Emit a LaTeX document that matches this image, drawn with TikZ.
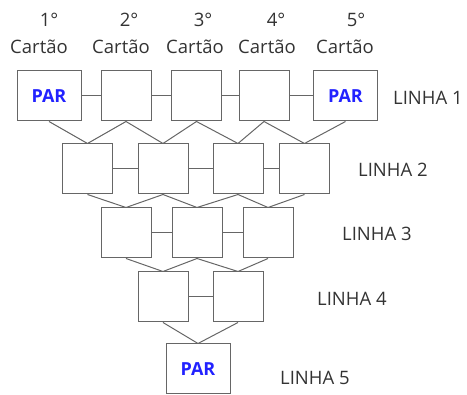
\documentclass[tikz,border=0pt]{standalone}
\usepackage{fontspec}
\setmainfont{Open Sans}
\definecolor{txt}{HTML}{333333}
\definecolor{ln}{HTML}{666666}
\definecolor{parblue}{HTML}{2222FF}
\begin{document}
\begin{tikzpicture}[x=1pt,y=-1pt,
  card/.style={draw=ln,line width=1pt,minimum height=50pt,inner sep=0pt,fill=white},
  cw/.style={minimum width=50pt},
  cwide/.style={minimum width=64pt},
  link/.style={draw=ln,line width=1pt},
  lbl/.style={text=txt,font=\fontsize{18.5}{21}\selectfont,inner sep=0pt},
  par/.style={text=parblue,font=\fontsize{18}{21}\selectfont\bfseries}
]
\useasboundingbox (0,0) rectangle (467,395);
% header
\node[lbl] (n1) at (49,20) {1°};
\node[lbl] (n2) at (129,20) {2°};
\node[lbl] (n3) at (203,20) {3°};
\node[lbl] (n4) at (276,20) {4°};
\node[lbl] (n5) at (356,20) {5°};
\node[lbl] (c1) at (39,47) {Cartão};
\node[lbl] (c2) at (121,47) {Cartão};
\node[lbl] (c3) at (195,47) {Cartão};
\node[lbl] (c4) at (267,47) {Cartão};
\node[lbl] (c5) at (345,47) {Cartão};
% row 1
\node[card,cwide,par] (a1) at (49,96) {PAR};
\node[card,cw] (a2) at (126,96) {};
\node[card,cw] (a3) at (196.5,96) {};
\node[card,cw] (a4) at (264,96) {};
\node[card,cwide,par] (a5) at (345.5,96) {PAR};
% row 2
\node[card,cw] (b1) at (87.5,169) {};
\node[card,cw] (b2) at (163,169) {};
\node[card,cw] (b3) at (238,169) {};
\node[card,cw] (b4) at (304.5,169) {};
% row 3
\node[card,cw] (d1) at (126,233) {};
\node[card,cw] (d2) at (197,233) {};
\node[card,cw] (d3) at (268,233) {};
% row 4
\node[card,cw] (e1) at (163,297) {};
\node[card,cw] (e2) at (238,297) {};
% row 5
\node[card,cwide,par] (f1) at (198,369) {PAR};
% labels
\node[lbl,anchor=west] (l1) at (393,98) {LINHA 1};
\node[lbl,anchor=west] (l2) at (358,170) {LINHA 2};
\node[lbl,anchor=west] (l3) at (342,234) {LINHA 3};
\node[lbl,anchor=west] (l4) at (317,299) {LINHA 4};
\node[lbl,anchor=west] (l5) at (280,378) {LINHA 5};
% horizontal links
\draw[link] (a1) -- (a2) (a2) -- (a3) (a3) -- (a4) (a4) -- (a5);
\draw[link] (b1) -- (b2) (b2) -- (b3) (b3) -- (b4);
\draw[link] (d1) -- (d2) (d2) -- (d3);
\draw[link] (e1) -- (e2);
% diagonals
\draw[link] (a1.south) -- (b1.north) (a2.south) -- (b1.north) (a2.south) -- (b2.north)
  (a3.south) -- (b2.north) (a3.south) -- (b3.north) (a4.south) -- (b3.north)
  (a4.south) -- (b4.north) (a5.south) -- (b4.north);
\draw[link] (b1.south) -- (d1.north) (b2.south) -- (d1.north) (b2.south) -- (d2.north)
  (b3.south) -- (d2.north) (b3.south) -- (d3.north) (b4.south) -- (d3.north);
\draw[link] (d1.south) -- (e1.north) (d2.south) -- (e1.north) (d2.south) -- (e2.north)
  (d3.south) -- (e2.north);
\draw[link] (e1.south) -- (f1.north) (e2.south) -- (f1.north);
\end{tikzpicture}
\end{document}
